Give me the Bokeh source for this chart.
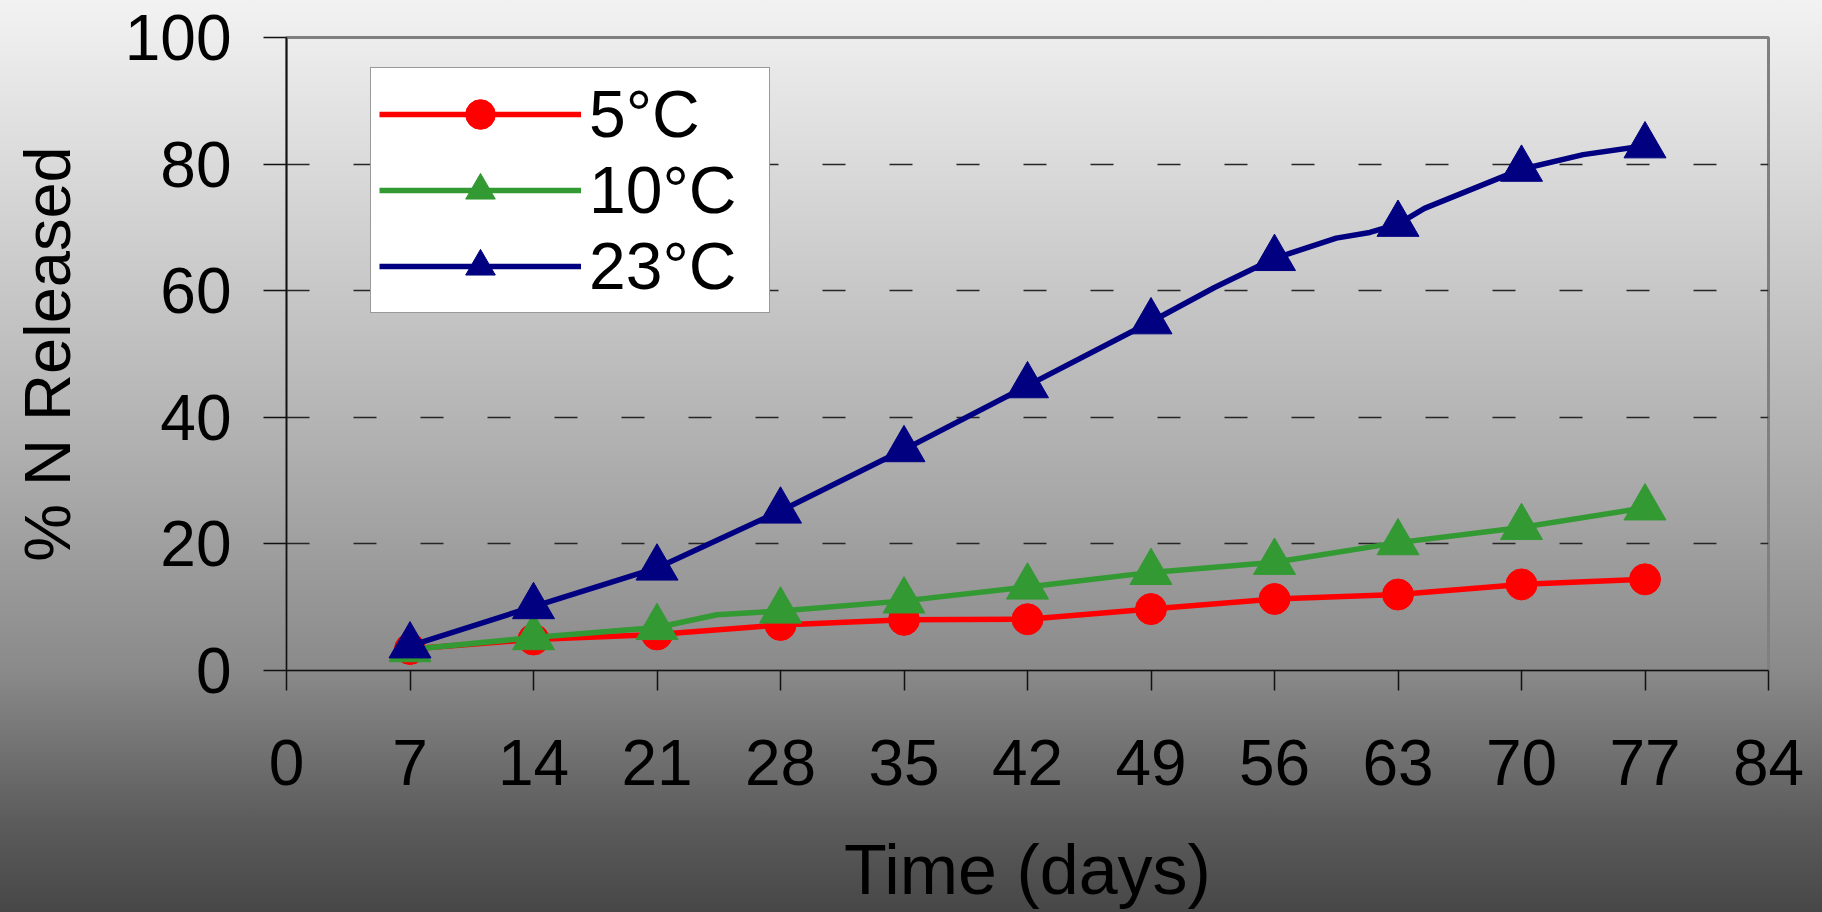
from bokeh.plotting import figure
from bokeh.models import (FixedTicker, Legend, LegendItem, InlineStyleSheet, Range1d)
from bokeh.embed import file_html
from bokeh.resources import INLINE

# Weekly sampling days and % of nitrogen released at each temperature
days = [7, 14, 21, 28, 35, 42, 49, 56, 63, 70, 77]
released_5c = [3.4, 4.9, 5.7, 7.2, 8.0, 8.1, 9.7, 11.3, 12.0, 13.6, 14.4]
released_10c = [3.3, 5.2, 6.8, 9.4, 11.0, 13.2, 15.5, 17.1, 20.2, 22.6, 25.7]
released_23c = [3.9, 10.1, 16.2, 25.2, 34.9, 45.0, 55.1, 65.1, 70.5, 79.2, 82.9]

# Readings taken between the weekly samples (shown on the lines only)
extra_days_5c = []
extra_5c = []
extra_days_10c = [24.4]
extra_10c = [8.8]
extra_days_23c = [52.6, 59.5, 61.4, 64.5, 73.5]
extra_23c = [60.5, 68.3, 69.2, 73.0, 81.5]

x_ticks = [0, 7, 14, 21, 28, 35, 42, 49, 56, 63, 70, 77, 84]
y_ticks = [0, 20, 40, 60, 80, 100]
grid_ticks = [20, 40, 60, 80]

series_labels = ["5°C", "10°C", "23°C"]
series_colors = ["#ff0000", "#339933", "#000080"]
series_markers = ["circle", "triangle", "triangle"]
marker_sizes = [31, 42, 42]

FONT = "Liberation Sans"


def merged(d, v, ed, ev):
    pts = sorted(zip(list(d) + list(ed), list(v) + list(ev)))
    return [a for a, _ in pts], [b for _, b in pts]


backdrop = InlineStyleSheet(css=(
    ":host { background: linear-gradient(to bottom, #f2f2f2 0%, #eeeeee 3.4%, "
    "#b0b0b0 49%, #8a8a8a 73.5%, #5c5c5c 90%, #474747 100%); }"
))

p = figure(
    width=1822, height=912,
    x_range=Range1d(0, 84), y_range=Range1d(0, 100),
    output_backend="svg", toolbar_location=None,
    min_border_left=286, min_border_right=54,
    min_border_top=37, min_border_bottom=242,
    background_fill_color=None, border_fill_color=None,
    stylesheets=[backdrop],
)

p.outline_line_color = "#808080"
p.outline_line_width = 3

p.xaxis.ticker = FixedTicker(ticks=x_ticks)
p.yaxis.ticker = FixedTicker(ticks=y_ticks)
for ax in (p.xaxis[0], p.yaxis[0]):
    ax.axis_line_color = "#111111"
    ax.axis_line_width = 1.5
    ax.major_tick_line_color = "#111111"
    ax.major_tick_line_width = 1.5
    ax.major_tick_in = 0
    ax.minor_tick_line_color = None
    ax.major_label_text_font = FONT
    ax.major_label_text_font_size = "64px"
    ax.major_label_text_color = "black"
    ax.axis_label_text_font = FONT
    ax.axis_label_text_font_style = "normal"
    ax.axis_label_text_color = "black"

p.xaxis.major_tick_out = 20
p.yaxis.major_tick_out = 23
p.xaxis.major_label_standoff = 49
p.yaxis.major_label_standoff = 32
p.xaxis.axis_label = "Time (days)"
p.yaxis.axis_label = "% N Released"
p.xaxis.axis_label_text_font_size = "70px"
p.yaxis.axis_label_text_font_size = "65px"
p.xaxis.axis_label_standoff = 43
p.yaxis.axis_label_standoff = 38

p.xgrid.grid_line_color = None
p.ygrid.ticker = FixedTicker(ticks=grid_ticks)
p.ygrid.grid_line_color = "#262626"
p.ygrid.grid_line_width = 1.5
p.ygrid.grid_line_dash = "23 44"

all_values = [released_5c, released_10c, released_23c]
all_extra_days = [extra_days_5c, extra_days_10c, extra_days_23c]
all_extra = [extra_5c, extra_10c, extra_23c]

items = []
for vals, ed, ev, label, color, marker, size in zip(
        all_values, all_extra_days, all_extra, series_labels,
        series_colors, series_markers, marker_sizes):
    lx, ly = merged(days, vals, ed, ev)
    line_r = p.line(lx, ly, line_color=color, line_width=5.5)
    mark_r = p.scatter(days, vals, marker=marker, size=size,
                       fill_color=color, line_color=color)
    items.append(LegendItem(label=label, renderers=[line_r, mark_r]))

legend = Legend(
    items=items, location=(84, 357),
    padding=8, spacing=0, margin=0,
    glyph_width=202, glyph_height=74,
    label_standoff=8, label_width=172, label_height=74,
    label_text_font=FONT, label_text_font_size="66px",
    label_text_color="black",
    border_line_color="#333333", border_line_width=1.5,
    background_fill_color="white", background_fill_alpha=1.0,
)
p.add_layout(legend)

open("out.html", "w").write(file_html(p, INLINE))
